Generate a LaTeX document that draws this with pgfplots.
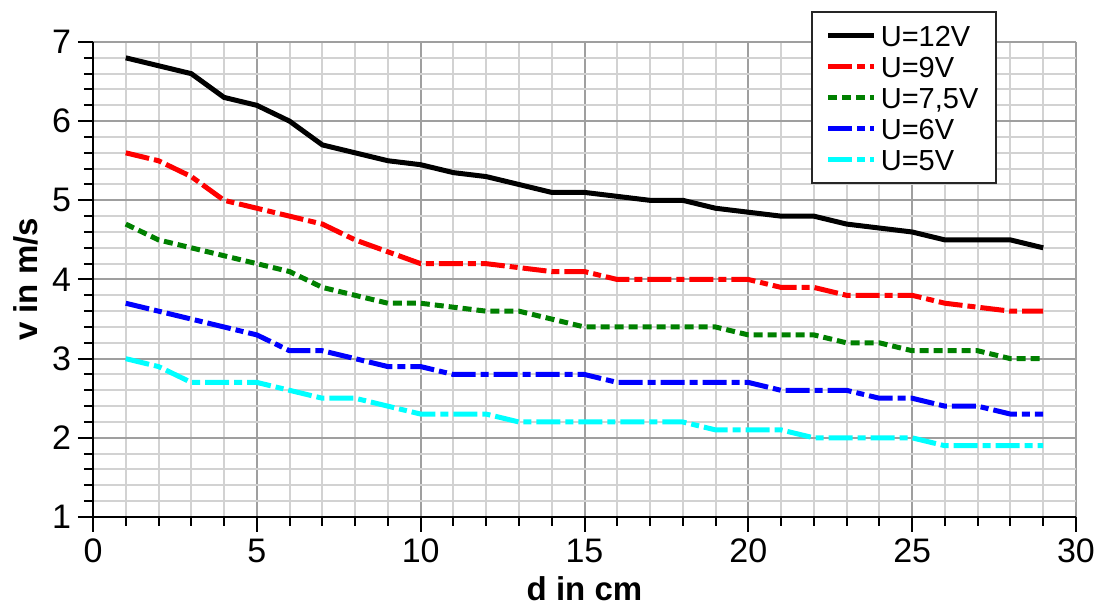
\documentclass[border=0pt]{standalone}
\usepackage{fontspec}
\setmainfont{Liberation Sans}
\usepackage{pgfplots}
\usepackage{pgfplotstable}
\pgfplotsset{compat=1.18}

\definecolor{cgreen}{RGB}{0,128,0}
\definecolor{cred}{RGB}{255,0,0}
\definecolor{cblue}{RGB}{0,0,255}
\definecolor{ccyan}{RGB}{0,255,255}

% d in cm, v in m/s for each voltage
\pgfplotstableread{
d  u12  u9   u75  u6   u5
1  6.8  5.6  4.7  3.7  3.0
2  6.7  5.5  4.5  3.6  2.9
3  6.6  5.3  4.4  3.5  2.7
4  6.3  5.0  4.3  3.4  2.7
5  6.2  4.9  4.2  3.3  2.7
6  6.0  4.8  4.1  3.1  2.6
7  5.7  4.7  3.9  3.1  2.5
8  5.6  4.5  3.8  3.0  2.5
9  5.5  4.35 3.7  2.9  2.4
10 5.45 4.2  3.7  2.9  2.3
11 5.35 4.2  3.65 2.8  2.3
12 5.3  4.2  3.6  2.8  2.3
13 5.2  4.15 3.6  2.8  2.2
14 5.1  4.1  3.5  2.8  2.2
15 5.1  4.1  3.4  2.8  2.2
16 5.05 4.0  3.4  2.7  2.2
17 5.0  4.0  3.4  2.7  2.2
18 5.0  4.0  3.4  2.7  2.2
19 4.9  4.0  3.4  2.7  2.1
20 4.85 4.0  3.3  2.7  2.1
21 4.8  3.9  3.3  2.6  2.1
22 4.8  3.9  3.3  2.6  2.0
23 4.7  3.8  3.2  2.6  2.0
24 4.65 3.8  3.2  2.5  2.0
25 4.6  3.8  3.1  2.5  2.0
26 4.5  3.7  3.1  2.4  1.9
27 4.5  3.65 3.1  2.4  1.9
28 4.5  3.6  3.0  2.3  1.9
29 4.4  3.6  3.0  2.3  1.9
}\speeds

\begin{document}
\begin{tikzpicture}
\useasboundingbox (-46.5pt,-46pt) rectangle (502.5pt,258.5pt);
\begin{axis}[
    scale only axis,
    width=491.5pt, height=237.5pt,
    xmin=0, xmax=30, ymin=1, ymax=7,
    xtick={0,5,...,30}, ytick={1,...,7},
    minor x tick num=4, minor y tick num=4,
    axis x line*=bottom, axis y line*=left,
    axis line style={-, line width=1pt, black},
    tick align=outside,
    tick style={black, line width=1pt},
    major tick length=7.5pt, minor tick length=4.5pt,
    grid=both,
    major grid style={gray!75, line width=1pt},
    minor grid style={gray!35, line width=1pt},
    /pgf/number format/assume math mode=true,
    ticklabel style={font=\fontsize{17}{19}\selectfont},
    xlabel={d in cm}, ylabel={v in m/s},
    label style={font=\bfseries\fontsize{16.5}{19}\selectfont},
    legend style={at={(0.92,1.065)}, anchor=north east, draw=black!85,
        line width=1pt, fill=white,
        font=\fontsize{14.5}{16}\selectfont,
        inner xsep=7pt, inner ysep=4pt, row sep=0pt,
        cells={anchor=west},
        nodes={text height=11pt, text depth=0.5pt, inner ysep=2pt}},
    legend image code/.code={\draw[#1, line width=2.5pt] (0pt,0pt) -- (18.5pt,0pt);
        \path (0pt,0pt) -- (23pt,0pt);},
    every axis plot/.append style={line width=2.5pt},
    clip=false,
]
\addplot[black, solid] table[x=d, y=u12] {\speeds};
\addlegendentry{U=12V}
\addplot[cred, dash pattern=on 12pt off 2.5pt on 4pt off 2.5pt] table[x=d, y=u9] {\speeds};
\addlegendentry{U=9V}
\addplot[cgreen, dash pattern=on 4.5pt off 2.5pt] table[x=d, y=u75] {\speeds};
\addlegendentry{U=7,5V}
\addplot[cblue, dash pattern=on 12pt off 2.5pt on 4pt off 2.5pt] table[x=d, y=u6] {\speeds};
\addlegendentry{U=6V}
\addplot[ccyan, dash pattern=on 12pt off 2.5pt on 4pt off 2.5pt] table[x=d, y=u5] {\speeds};
\addlegendentry{U=5V}
\end{axis}
\end{tikzpicture}
\end{document}
